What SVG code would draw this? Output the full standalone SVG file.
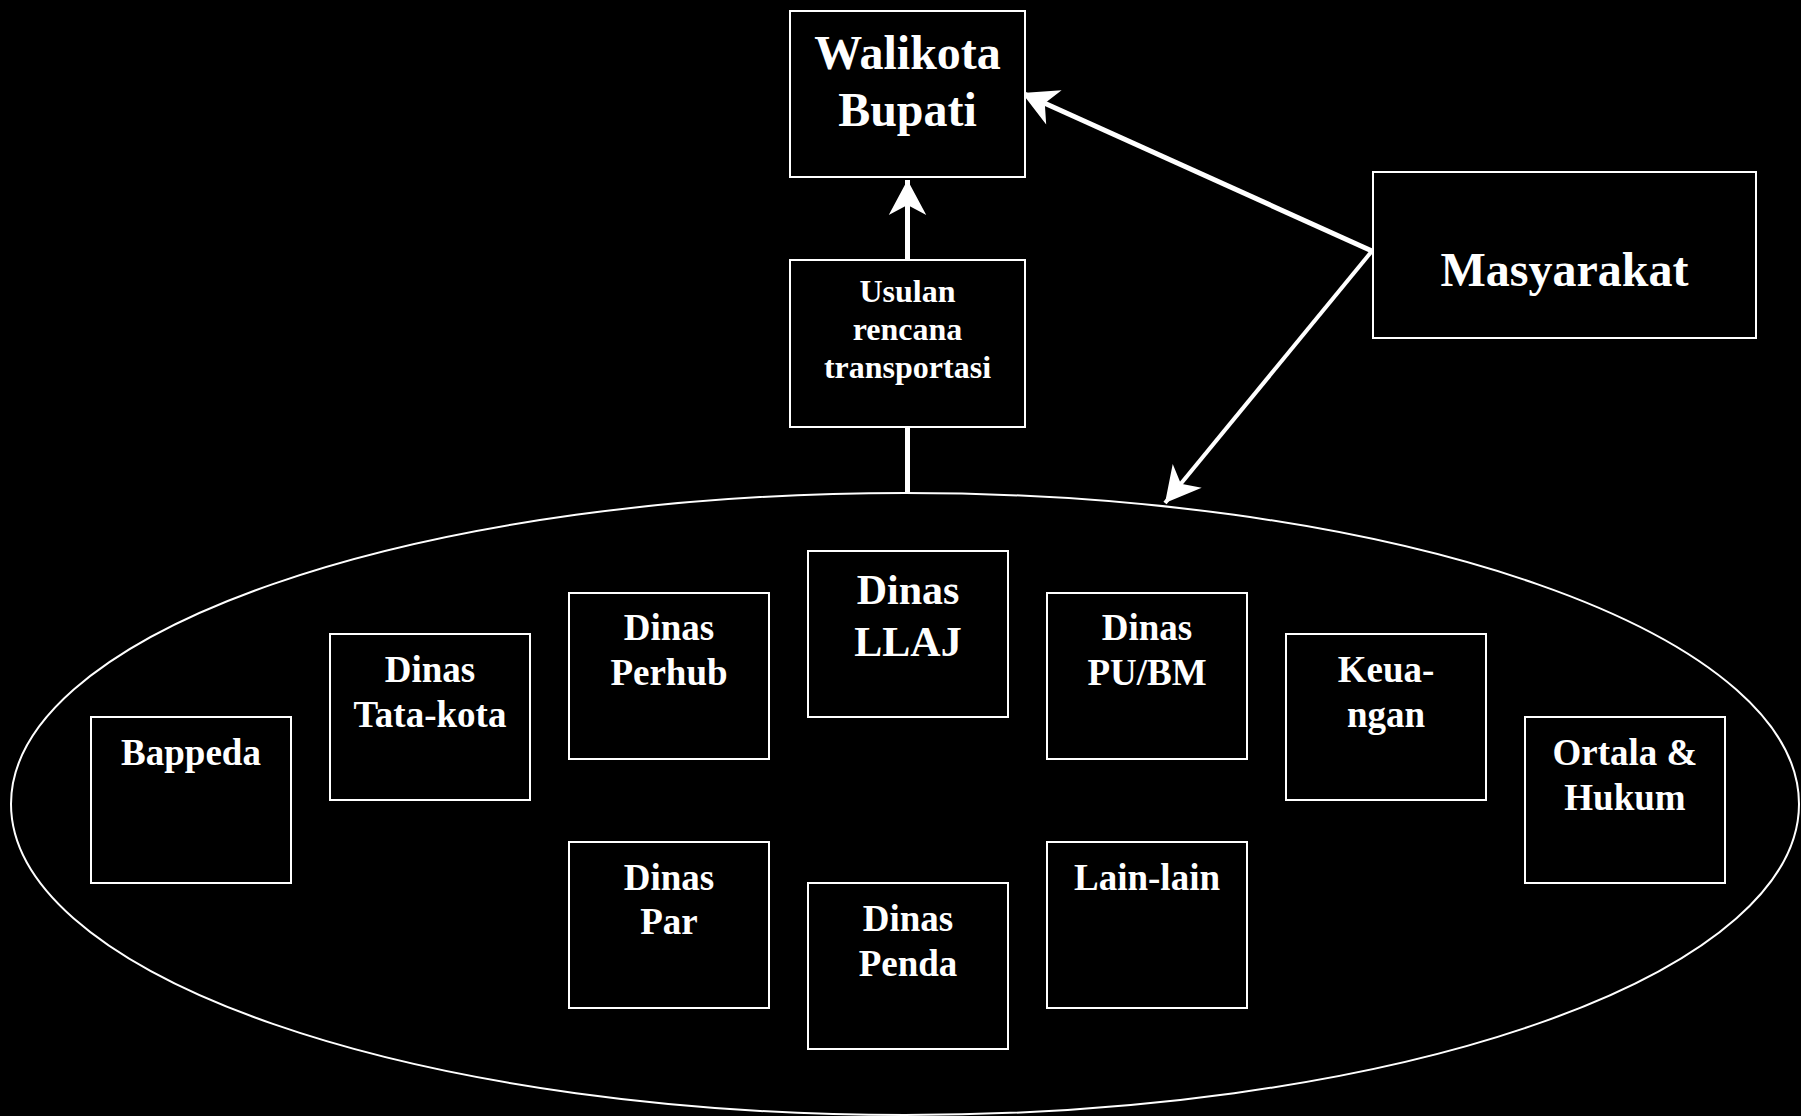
<svg xmlns="http://www.w3.org/2000/svg" width="1801" height="1116" viewBox="0 0 1801 1116">
<style>
.box{fill:#000;stroke:#fff;stroke-width:2}
.t{fill:#fff;font-family:"Liberation Serif","Times New Roman",serif;font-weight:bold;text-anchor:middle}
.big{font-size:48px}
.mid{font-size:42px}
.sm{font-size:37px}
.us{font-size:32px}
.conn{stroke:#fff;fill:none}
</style>
<defs>
<marker id="ah" markerUnits="userSpaceOnUse" markerWidth="40" markerHeight="40" refX="0" refY="0" viewBox="-30 -16 32 32" orient="auto" overflow="visible">
<path d="M0,0 L-28,-15 L-20,0 L-28,15 Z" fill="#fff"/>
</marker>
</defs>
<rect width="1801" height="1116" fill="#000"/>
<g id="group-ellipse">
<ellipse cx="905" cy="804" rx="894" ry="311" fill="none" stroke="#fff" stroke-width="2"/>
</g>
<g id="connectors">
<line class="conn" x1="907.5" y1="427" x2="907.5" y2="493" stroke-width="5"/>
<line class="conn" x1="907.5" y1="260" x2="907.5" y2="180" stroke-width="5" marker-end="url(#ah)"/>
<line class="conn" x1="1372" y1="251" x2="1022" y2="93" stroke-width="5" marker-end="url(#ah)"/>
<line class="conn" x1="1372" y1="251" x2="1165" y2="503" stroke-width="4" marker-end="url(#ah)"/>
</g>
<g id="walikota">
<rect class="box" x="790" y="11" width="235" height="166"/>
<text class="t big" x="907.5" y="69">Walikota</text>
<text class="t big" x="907.5" y="126">Bupati</text>
</g>
<g id="usulan">
<rect class="box" x="790" y="260" width="235" height="167"/>
<text class="t us" x="907.5" y="302">Usulan</text>
<text class="t us" x="907.5" y="340">rencana</text>
<text class="t us" x="907.5" y="378">transportasi</text>
</g>
<g id="masyarakat">
<rect class="box" x="1373" y="172" width="383" height="166"/>
<text class="t big" x="1564.5" y="286">Masyarakat</text>
</g>
<g id="bappeda">
<rect class="box" x="91" y="717" width="200" height="166"/>
<text class="t sm" x="191" y="765">Bappeda</text>
</g>
<g id="tatakota">
<rect class="box" x="330" y="634" width="200" height="166"/>
<text class="t sm" x="430" y="682">Dinas</text>
<text class="t sm" x="430" y="727">Tata-kota</text>
</g>
<g id="perhub">
<rect class="box" x="569" y="593" width="200" height="166"/>
<text class="t sm" x="669" y="640">Dinas</text>
<text class="t sm" x="669" y="685">Perhub</text>
</g>
<g id="llaj">
<rect class="box" x="808" y="551" width="200" height="166"/>
<text class="t mid" x="908" y="604">Dinas</text>
<text class="t mid" x="908" y="656">LLAJ</text>
</g>
<g id="pubm">
<rect class="box" x="1047" y="593" width="200" height="166"/>
<text class="t sm" x="1147" y="640">Dinas</text>
<text class="t sm" x="1147" y="685">PU/BM</text>
</g>
<g id="keuangan">
<rect class="box" x="1286" y="634" width="200" height="166"/>
<text class="t sm" x="1386" y="682">Keua-</text>
<text class="t sm" x="1386" y="727">ngan</text>
</g>
<g id="ortala">
<rect class="box" x="1525" y="717" width="200" height="166"/>
<text class="t sm" x="1625" y="765">Ortala &amp;</text>
<text class="t sm" x="1625" y="810">Hukum</text>
</g>
<g id="par">
<rect class="box" x="569" y="842" width="200" height="166"/>
<text class="t sm" x="669" y="890">Dinas</text>
<text class="t sm" x="669" y="934">Par</text>
</g>
<g id="penda">
<rect class="box" x="808" y="883" width="200" height="166"/>
<text class="t sm" x="908" y="931">Dinas</text>
<text class="t sm" x="908" y="976">Penda</text>
</g>
<g id="lainlain">
<rect class="box" x="1047" y="842" width="200" height="166"/>
<text class="t sm" x="1147" y="890">Lain-lain</text>
</g>
</svg>
